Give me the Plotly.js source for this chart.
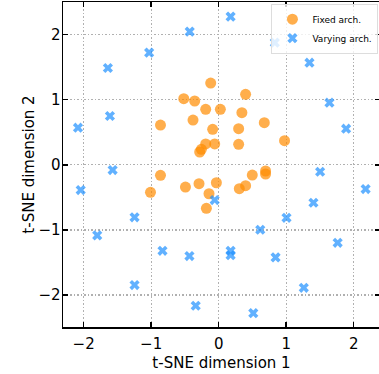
<!DOCTYPE html>
<html>
<head>
<meta charset="utf-8">
<script src="https://cdn.plot.ly/plotly-3.0.1.min.js"></script>
<style>html,body{margin:0;padding:0;overflow:hidden;background:#fff;}</style>
</head>
<body>
<div id="chart" style="width:379px;height:374px;"></div>
<script>
const fixedX = [-0.118, 0.399, -0.517, -0.355, -0.192, 0.025, 0.344, 0.676, -0.862, -0.380,
  -0.089, 0.296, 0.296, -0.059, -0.192, -0.256, -0.281, 0.976, -0.862, -1.010,
  -0.492, -0.291, -0.034, -0.143, -0.182, 0.306, 0.399, 0.498, 0.695, 0.695];
const fixedY = [1.256, 1.083, 1.015, 0.980, 0.853, 0.853, 0.800, 0.647, 0.611, 0.688,
  0.545, 0.555, 0.315, 0.320, 0.320, 0.238, 0.197, 0.370, -0.161, -0.422,
  -0.341, -0.290, -0.275, -0.444, -0.668, -0.367, -0.321, -0.157, -0.095, -0.141];
const varyX = [-0.429, 0.177, -1.030, -1.641, 0.832, 1.345, 1.641, 1.888, -1.611, -2.084,
  -1.571, -2.044, -1.246, -1.799, -0.832, -0.433, -1.246, -0.340, -0.059, 1.503,
  2.177, 1.404, 1.005, 0.616, 0.177, 0.177, 0.843, 1.763, 1.261, 0.513];
const varyY = [2.045, 2.275, 1.722, 1.487, 1.876, 1.568, 0.954, 0.555, 0.750, 0.570,
  -0.080, -0.387, -0.806, -1.083, -1.320, -1.401, -1.846, -2.164, -0.541, -0.106,
  -0.372, -0.582, -0.813, -0.997, -1.320, -1.386, -1.421, -1.197, -1.888, -2.277];
const seriesNames = ["Fixed arch.", "Varying arch."];
const tickVals = [-2, -1, 0, 1, 2];

const traces = [
  {x: fixedX, y: fixedY, name: seriesNames[0], type: "scatter", mode: "markers",
   marker: {symbol: "circle", size: 11, color: "rgba(255,140,0,0.7)", line: {width: 0}}},
  {x: varyX, y: varyY, name: seriesNames[1], type: "scatter", mode: "markers",
   marker: {symbol: "x", size: 9, color: "rgba(30,144,255,0.7)", line: {width: 0}}}
];

const axisCommon = {
  showline: true, linecolor: "#000", linewidth: 1.5, mirror: "ticks",
  ticks: "inside", ticklen: 5, tickwidth: 1.5, tickcolor: "#000",
  showgrid: true, gridcolor: "#b0b0b0", gridwidth: 1.2, griddash: "1.5px,2px",
  zeroline: false, tickvals: tickVals,
  tickfont: {family: "DejaVu Sans", size: 15, color: "#000"}
};

const layout = {
  width: 380, height: 374,
  margin: {l: 63, r: 0, t: 2, b: 47},
  paper_bgcolor: "#fff", plot_bgcolor: "#fff",
  font: {family: "DejaVu Sans", color: "#000"},
  xaxis: Object.assign({}, axisCommon, {
    range: [-2.306, 2.39], ticklabelstandoff: 2,
    title: {text: "t-SNE dimension 1", font: {size: 15, family: "DejaVu Sans"}, standoff: 6}
  }),
  yaxis: Object.assign({}, axisCommon, {
    range: [-2.49, 2.50], ticklabelstandoff: -2,
    title: {text: "t-SNE dimension 2", font: {size: 15, family: "DejaVu Sans"}, standoff: 0}
  }),
  legend: {x: 0.995, xanchor: "right", y: 0.995, yanchor: "top",
    bgcolor: "rgba(255,255,255,0.8)", bordercolor: "#dddddd", borderwidth: 1,
    font: {size: 9, family: "DejaVu Sans", color: "#000"}, itemwidth: 30, tracegroupgap: 0},
  showlegend: true
};

Plotly.newPlot("chart", traces, layout, {displayModeBar: false, staticPlot: true});
</script>
</body>
</html>
